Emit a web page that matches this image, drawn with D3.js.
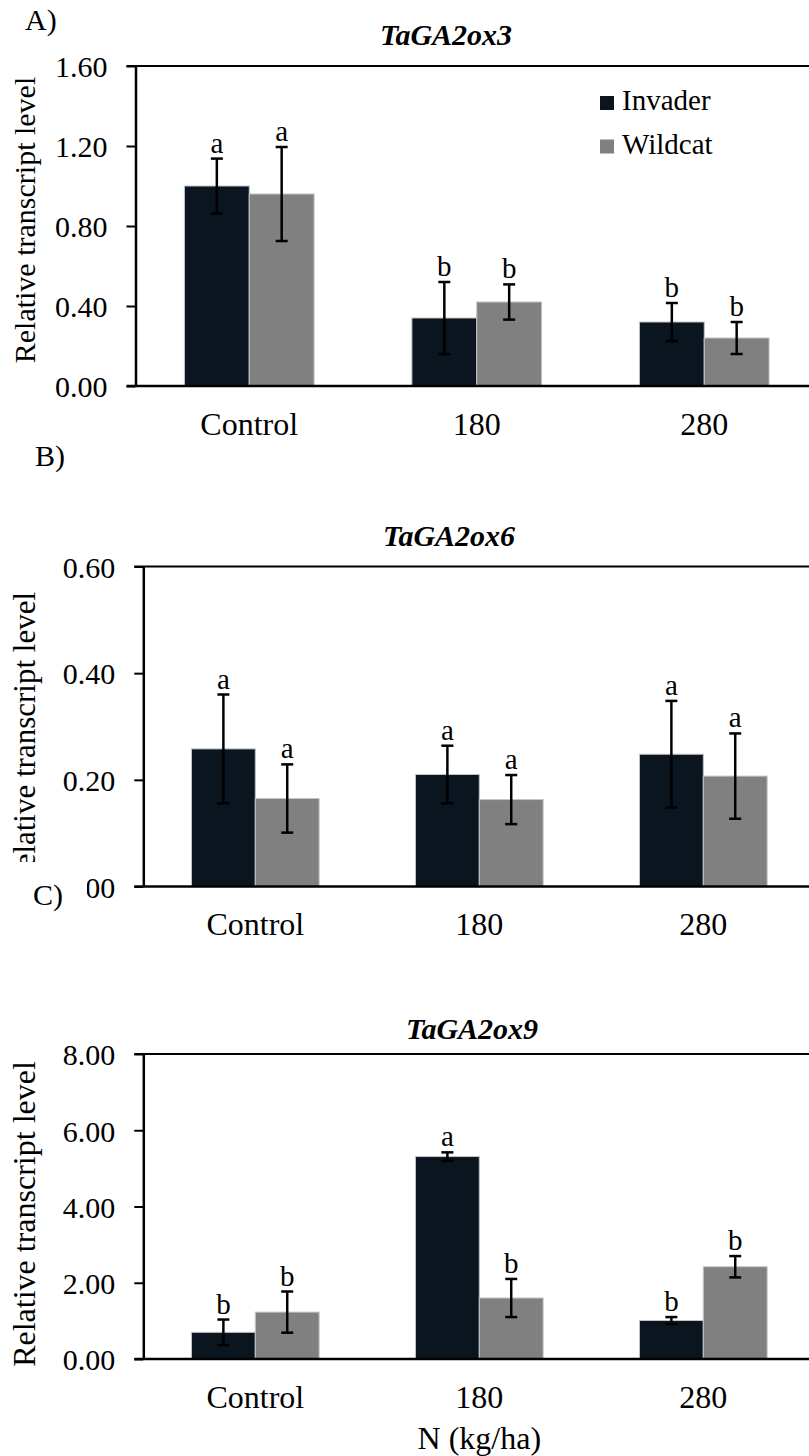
<!DOCTYPE html>
<html>
<head>
<meta charset="utf-8">
<script src="https://cdn.jsdelivr.net/npm/d3@7"></script>
<style>
  body { margin: 0; background: #fff; }
  svg { display: block; }
</style>
</head>
<body>
<div id="chart"></div>
<script>
// ---- data ----
const categories = ["Control", "180", "280"];
const seriesNames = ["Invader", "Wildcat"];
const seriesColors = ["#0b1520", "#808080"];

// A) TaGA2ox3
const ox3Invader = [1.00, 0.34, 0.32];
const ox3InvaderErr = [0.137, 0.18, 0.095];
const ox3Wildcat = [0.96, 0.42, 0.24];
const ox3WildcatErr = [0.235, 0.088, 0.08];
const ox3Letters = [["a", "a"], ["b", "b"], ["b", "b"]];
const ox3Ticks = [0, 0.4, 0.8, 1.2, 1.6];

// B) TaGA2ox6
const ox6Invader = [0.258, 0.21, 0.248];
const ox6InvaderErr = [0.102, 0.054, 0.10];
const ox6Wildcat = [0.165, 0.163, 0.207];
const ox6WildcatErr = [0.064, 0.046, 0.08];
const ox6Letters = [["a", "a"], ["a", "a"], ["a", "a"]];
const ox6Ticks = [0, 0.2, 0.4, 0.6];

// C) TaGA2ox9
const ox9Invader = [0.70, 5.31, 1.01];
const ox9InvaderErr = [0.335, 0.11, 0.09];
const ox9Wildcat = [1.23, 1.60, 2.42];
const ox9WildcatErr = [0.54, 0.50, 0.28];
const ox9Letters = [["b", "b"], ["a", "b"], ["b", "b"]];
const ox9Ticks = [0, 2, 4, 6, 8];

const W = 809, H = 1456;
const FONT = '"Liberation Serif"';

// panel layout (positions only)
const panels = [
  { tag: "A)", tagX: 25, tagY: 30, title: "TaGA2ox3", titleX: 446, titleY: 45,
    values: [ox3Invader, ox3Wildcat], errs: [ox3InvaderErr, ox3WildcatErr], letters: ox3Letters,
    ticks: ox3Ticks, axisX: 135.5, bandW: 227.5, yBottom: 386, yTop: 66, labelCy: 220, labelSize: 30 },
  { tag: "B)", tagX: 35, tagY: 466, title: "TaGA2ox6", titleX: 449, titleY: 546,
    values: [ox6Invader, ox6Wildcat], errs: [ox6InvaderErr, ox6WildcatErr], letters: ox6Letters,
    ticks: ox6Ticks, axisX: 143.3, bandW: 224, yBottom: 886.5, yTop: 566.5, labelCy: 740, labelSize: 31 },
  { tag: "C)", tagX: 33, tagY: 905, tagBox: [0, 862, 87, 50], title: "TaGA2ox9", titleX: 472, titleY: 1039,
    values: [ox9Invader, ox9Wildcat], errs: [ox9InvaderErr, ox9WildcatErr], letters: ox9Letters,
    ticks: ox9Ticks, axisX: 143.3, bandW: 224, yBottom: 1359, yTop: 1054, labelCy: 1214, labelSize: 32,
    xTitle: "N (kg/ha)" }
];

const svg = d3.select("#chart").append("svg")
  .attr("width", W)
  .attr("height", H);

svg.append("rect").attr("width", W).attr("height", H).attr("fill", "#fff");

panels.forEach((p, pi) => {
  const g = svg.append("g").attr("class", "panel-" + pi);

  // white box behind the panel tag (it hides part of the panel above)
  if (p.tagBox) {
    g.append("rect")
      .attr("x", p.tagBox[0]).attr("y", p.tagBox[1])
      .attr("width", p.tagBox[2]).attr("height", p.tagBox[3])
      .attr("fill", "#fff");
  }

  const x = d3.scaleBand()
    .domain(categories)
    .range([p.axisX, p.axisX + p.bandW * categories.length]);

  const y = d3.scaleLinear()
    .domain([0, d3.max(p.ticks)])
    .range([p.yBottom, p.yTop]);

  const bw = p.bandW * 0.285;

  // flatten into bar records
  const bars = [];
  categories.forEach((c, ci) => {
    seriesNames.forEach((s, si) => {
      bars.push({
        cat: c, si: si,
        value: p.values[si][ci],
        err: p.errs[si][ci],
        letter: p.letters[ci][si],
        x0: x(c) + p.bandW / 2 - bw + si * bw
      });
    });
  });

  // bars
  g.selectAll(".bar")
    .data(bars)
    .join("rect")
      .attr("class", "bar")
      .attr("x", d => d.x0)
      .attr("y", d => y(d.value))
      .attr("width", bw)
      .attr("height", d => y(0) - y(d.value))
      .attr("fill", d => seriesColors[d.si])
      .attr("stroke", "#c4c4c4")
      .attr("stroke-width", 1);

  // error bars
  const eb = g.selectAll(".err")
    .data(bars)
    .join("g")
      .attr("class", "err")
      .attr("stroke", "#000")
      .attr("stroke-width", 2.5);
  eb.append("line")
    .attr("x1", d => d.x0 + bw / 2).attr("x2", d => d.x0 + bw / 2)
    .attr("y1", d => y(d.value + d.err)).attr("y2", d => y(d.value - d.err));
  eb.append("line")
    .attr("x1", d => d.x0 + bw / 2 - 6).attr("x2", d => d.x0 + bw / 2 + 6)
    .attr("y1", d => y(d.value + d.err)).attr("y2", d => y(d.value + d.err));
  eb.append("line")
    .attr("x1", d => d.x0 + bw / 2 - 6).attr("x2", d => d.x0 + bw / 2 + 6)
    .attr("y1", d => y(d.value - d.err)).attr("y2", d => y(d.value - d.err));

  // significance letters
  g.selectAll(".sig")
    .data(bars)
    .join("text")
      .attr("class", "sig")
      .attr("x", d => d.x0 + bw / 2)
      .attr("y", d => y(d.value + d.err) - 6)
      .attr("text-anchor", "middle")
      .style("font-family", FONT)
      .style("font-size", "29px")
      .text(d => d.letter);

  // top frame line
  g.append("line")
    .attr("x1", p.axisX - 9).attr("x2", W + 20)
    .attr("y1", y(d3.max(p.ticks))).attr("y2", y(d3.max(p.ticks)))
    .attr("stroke", "#000").attr("stroke-width", 2);

  // left axis
  const yAxis = g.append("g")
    .attr("transform", `translate(${p.axisX},0)`)
    .call(d3.axisLeft(y).tickValues(p.ticks).tickFormat(d3.format(".2f"))
      .tickSize(9).tickSizeOuter(0).tickPadding(19));
  yAxis.attr("font-family", FONT).attr("font-size", 30);
  yAxis.select(".domain").attr("stroke-width", 2.5);
  yAxis.selectAll(".tick line").attr("stroke-width", 2);
  yAxis.selectAll(".tick text")
    .style("font-family", FONT)
    .style("font-size", "30px")
    .attr("dy", "0.36em");

  // bottom axis: category labels
  const xAxis = g.append("g")
    .attr("transform", `translate(0,${y(0)})`)
    .call(d3.axisBottom(x).tickSize(0).tickPadding(26));
  xAxis.attr("font-family", FONT).attr("font-size", 32);
  xAxis.select(".domain").remove();
  xAxis.selectAll(".tick text")
    .style("font-family", FONT)
    .style("font-size", "32px");

  g.append("line")
    .attr("x1", p.axisX - 9).attr("x2", W + 20)
    .attr("y1", y(0)).attr("y2", y(0))
    .attr("stroke", "#000").attr("stroke-width", 2.5);

  // title
  g.append("text")
    .attr("x", p.titleX).attr("y", p.titleY)
    .attr("text-anchor", "middle")
    .style("font-family", FONT)
    .style("font-size", "30px")
    .style("font-weight", "bold")
    .style("font-style", "italic")
    .text(p.title);

  // y axis title
  g.append("text")
    .attr("transform", `translate(35,${p.labelCy}) rotate(-90)`)
    .attr("text-anchor", "middle")
    .style("font-family", FONT)
    .style("font-size", p.labelSize + "px")
    .text("Relative transcript level");

  // panel tag
  g.append("text")
    .attr("x", p.tagX).attr("y", p.tagY)
    .style("font-family", FONT)
    .style("font-size", "30px")
    .text(p.tag);

  // x axis title
  if (p.xTitle) {
    g.append("text")
      .attr("x", x.range()[0] + (x.range()[1] - x.range()[0]) / 2)
      .attr("y", 1449)
      .attr("text-anchor", "middle")
      .style("font-family", FONT)
      .style("font-size", "32px")
      .text(p.xTitle);
  }

  // legend only on the first panel
  if (pi === 0) {
    const lg = g.append("g").attr("transform", "translate(600,96)");
    seriesNames.forEach((s, si) => {
      lg.append("rect")
        .attr("x", 0).attr("y", si * 43.5)
        .attr("width", 14).attr("height", 14)
        .attr("fill", seriesColors[si]);
      lg.append("text")
        .attr("x", 22).attr("y", si * 44 + 14)
        .style("font-family", FONT)
        .style("font-size", "29px")
        .text(s);
    });
  }
});
</script>
</body>
</html>
